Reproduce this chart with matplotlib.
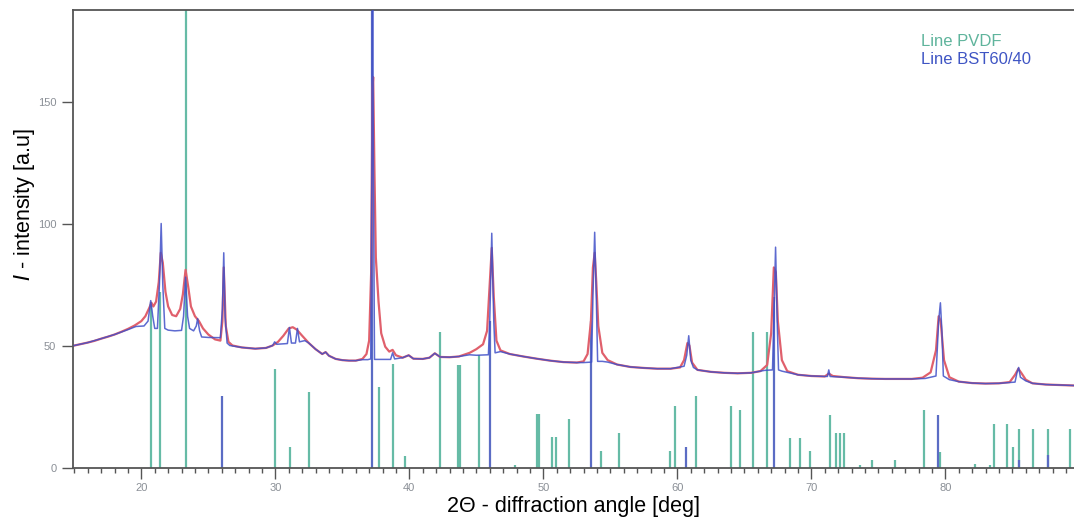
import matplotlib
matplotlib.use("Agg")
import matplotlib.pyplot as plt
from matplotlib.ticker import MultipleLocator

# ---------------- data ----------------
# measured pattern (red)
meas_x = [15.0, 15.5, 16.0, 16.5, 17.0, 17.5, 18.0, 18.5, 19.0, 19.5, 20.0, 20.3, 20.6, 20.75, 20.9,
          21.1, 21.3, 21.45, 21.6, 21.8, 22.0, 22.3, 22.6, 22.9, 23.1, 23.3, 23.5, 23.7, 24.0, 24.3,
          24.6, 25.0, 25.5, 25.9, 26.05, 26.15, 26.3, 26.5, 26.8, 27.5, 28.5, 29.3, 29.8, 30.2, 30.6,
          31.0, 31.3, 31.6, 32.0, 32.5, 33.0, 33.5, 33.75, 34.0, 34.5, 35.0, 35.5, 36.0, 36.5, 36.8,
          37.0, 37.15, 37.25, 37.3, 37.4, 37.5, 37.7, 37.9, 38.2, 38.5, 38.75, 39.0, 39.5, 39.95, 40.3,
          41.0, 41.5, 41.9, 42.3, 43.0, 43.7, 44.5, 45.0, 45.5, 45.8, 46.0, 46.15, 46.3, 46.5, 46.8,
          47.5, 48.5, 49.5, 50.5, 51.5, 52.5, 53.0, 53.3, 53.55, 53.7, 53.83, 53.95, 54.1, 54.4, 54.8,
          55.5, 56.5, 57.5, 58.5, 59.5, 60.2, 60.5, 60.75, 60.9, 61.1, 61.5, 62.5, 63.5, 64.5, 65.5,
          66.2, 66.7, 67.0, 67.2, 67.35, 67.5, 67.8, 68.2, 69.0, 70.0, 71.0, 71.3, 71.6, 72.5, 73.5,
          74.5, 75.5, 76.5, 77.5, 78.3, 78.9, 79.3, 79.5, 79.65, 79.9, 80.3, 81.0, 82.0, 83.0, 84.0,
          84.8, 85.2, 85.45, 85.7, 86.0, 86.5, 87.5, 88.5, 89.6]
meas_y = [50.0, 50.6, 51.2, 51.9, 52.8, 53.6, 54.5, 55.6, 56.8, 58.2, 60.0, 62.0, 65.5, 67.5, 66.0,
          68.0, 76.0, 88.0, 84.0, 72.0, 66.0, 62.5, 62.0, 65.0, 71.0, 81.0, 74.0, 66.0, 62.0, 60.0,
          57.0, 54.5, 52.5, 52.0, 60.0, 82.0, 58.0, 51.5, 50.0, 49.2, 48.7, 49.0, 50.0, 51.5, 54.0,
          57.0, 57.5, 56.5, 54.0, 51.0, 48.5, 46.5, 47.3, 45.8, 44.5, 44.0, 43.8, 43.8, 44.5, 46.5,
          52.0, 80.0, 155.0, 160.0, 120.0, 86.0, 68.0, 55.0, 49.5, 47.5, 48.2, 46.0, 45.0, 46.0, 44.6,
          44.5, 45.0, 46.8, 45.3, 45.2, 45.5, 47.0, 48.5, 50.5, 56.0, 75.0, 90.0, 70.0, 52.0, 48.0,
          46.5, 45.5, 44.6, 43.8, 43.2, 43.0, 43.5, 46.5, 60.0, 82.0, 88.0, 76.0, 58.0, 47.0, 44.0,
          42.2, 41.2, 40.8, 40.5, 40.5, 41.0, 44.0, 51.0, 50.0, 43.0, 40.0, 39.2, 38.8, 38.6, 38.8,
          39.5, 42.0, 55.0, 82.0, 80.0, 60.0, 44.0, 39.5, 38.0, 37.5, 37.3, 38.5, 37.5, 37.0, 36.6,
          36.4, 36.3, 36.3, 36.3, 36.8, 39.0, 48.0, 62.0, 60.0, 44.0, 37.0, 35.2, 34.6, 34.4, 34.5,
          35.0, 38.0, 40.5, 38.5, 36.0, 34.5, 34.0, 33.8, 33.6]

# calculated pattern (blue)
calc_x = [15.0, 16.0, 17.0, 18.0, 19.0, 19.6, 20.2, 20.5, 20.7, 20.85, 21.0, 21.2, 21.35, 21.48, 21.6,
          21.75, 22.0, 22.5, 23.0, 23.15, 23.3, 23.45, 23.6, 23.9, 24.1, 24.2, 24.35, 24.5, 25.0, 25.9,
          26.05, 26.15, 26.25, 26.4, 26.6, 27.5, 28.5, 29.3, 29.8, 29.95, 30.1, 30.9, 31.05, 31.2, 31.5,
          31.65, 31.8, 32.2, 32.5, 33.0, 33.5, 33.75, 34.0, 34.5, 35.0, 35.5, 36.0, 36.5, 36.9, 37.12,
          37.2, 37.26, 37.32, 37.4, 38.0, 38.6, 38.75, 38.9, 39.5, 39.95, 40.3, 41.0, 41.5, 41.9, 42.3,
          43.0, 43.7, 44.5, 45.0, 45.9, 46.0, 46.15, 46.3, 46.4, 46.8, 47.5, 48.5, 49.5, 50.5, 51.5,
          52.5, 53.0, 53.6, 53.7, 53.83, 53.95, 54.05, 54.4, 54.8, 55.5, 56.5, 57.5, 58.5, 59.5, 60.5,
          60.7, 60.85, 61.0, 61.2, 61.5, 62.5, 63.5, 64.5, 65.5, 66.5, 67.1, 67.2, 67.33, 67.45, 67.55,
          67.8, 68.2, 69.0, 70.0, 71.0, 71.2, 71.3, 71.4, 72.5, 73.5, 74.5, 75.5, 76.5, 77.5, 78.5,
          79.3, 79.5, 79.63, 79.75, 79.85, 80.3, 81.0, 82.0, 83.0, 84.0, 85.2, 85.35, 85.47, 85.6, 86.0,
          86.5, 87.5, 88.5, 89.6]
calc_y = [50.0, 51.2, 52.8, 54.5, 56.5, 57.8, 58.0, 60.0, 68.4, 62.0, 57.0, 57.0, 75.0, 100.0, 75.0,
          57.0, 56.3, 56.0, 56.2, 62.0, 78.0, 62.0, 57.0, 56.0, 58.0, 61.0, 56.0, 53.5, 53.3, 53.2,
          65.0, 88.0, 62.0, 51.0, 50.0, 49.2, 48.7, 49.0, 50.0, 51.5, 50.5, 50.8, 57.4, 51.0, 51.0,
          57.0, 51.5, 52.0, 51.0, 48.5, 46.5, 47.3, 45.8, 44.5, 44.0, 43.8, 43.8, 44.2, 44.2, 44.5,
          120.0, 205.0, 120.0, 44.3, 44.3, 44.3, 47.0, 44.5, 45.0, 46.0, 44.6, 44.5, 45.0, 46.8, 45.3,
          45.2, 45.5, 46.2, 46.0, 46.2, 60.0, 96.0, 60.0, 47.0, 47.5, 46.5, 45.5, 44.6, 43.8, 43.2,
          43.0, 43.0, 43.2, 70.0, 96.4, 70.0, 43.5, 43.5, 43.2, 42.2, 41.2, 40.8, 40.5, 40.5, 41.5,
          46.0, 54.0, 44.0, 41.0, 40.0, 39.2, 38.8, 38.6, 38.8, 39.8, 40.0, 60.0, 90.3, 60.0, 40.0,
          39.5, 39.0, 38.0, 37.5, 37.3, 37.3, 40.0, 37.3, 37.0, 36.6, 36.4, 36.3, 36.3, 36.3, 36.5,
          37.5, 60.0, 67.5, 55.0, 37.5, 36.0, 35.2, 34.6, 34.4, 34.5, 35.0, 39.0, 41.0, 37.0, 35.5,
          34.5, 34.0, 33.8, 33.6]

# reference stick patterns
pvdf_pos = [20.70, 21.38, 23.33, 30.00, 31.12, 32.53, 37.73, 38.78, 39.65, 42.30, 43.60, 43.75,
            45.20, 47.90, 49.55, 49.68, 50.64, 50.97, 51.91, 54.33, 55.62, 59.43, 59.80, 61.42,
            64.03, 64.68, 65.62, 66.70, 68.38, 69.13, 69.87, 71.37, 71.82, 72.12, 72.43, 73.60,
            74.50, 76.27, 78.38, 79.57, 82.20, 83.30, 83.63, 84.63, 85.04, 85.50, 86.54, 87.66, 89.28]
pvdf_int = [68.0, 72.0, 200.0, 40.5, 8.3, 30.9, 32.9, 42.6, 4.9, 55.5, 42.2, 42.2,
            46.3, 1.0, 22.0, 22.0, 12.4, 12.4, 19.7, 6.6, 14.2, 6.6, 25.4, 29.2,
            25.1, 23.4, 55.5, 55.5, 12.2, 12.2, 6.6, 21.7, 14.2, 14.2, 14.2, 1.0,
            2.9, 2.9, 23.6, 6.4, 1.5, 1.0, 17.9, 17.9, 8.3, 15.9, 15.9, 15.9, 15.9]
bst_pos = [26.03, 37.22, 46.04, 53.58, 60.67, 67.24, 79.48, 85.47, 87.66]
bst_int = [29.5, 200.0, 60.0, 60.0, 8.3, 70.0, 21.7, 3.2, 5.0]

x_ticks = [20, 30, 40, 50, 60, 70, 80]
y_ticks = [0, 50, 100, 150]
legend_labels = ["Line PVDF", "Line BST60/40"]

# ---------------- styling ----------------
plt.rcParams['font.family'] = ['Liberation Sans', 'DejaVu Sans']
teal = '#66bba6'
stick_blue = '#5b6cc4'
red = '#e0606c'
calc_blue = '#4050c8'
axis_col = '#555555'
tick_lab_col = '#8a8f96'

fig = plt.figure(figsize=(10.74, 5.22), dpi=100)
ax = fig.add_axes([73 / 1074, 1 - 467.5 / 522, 1 - 73 / 1074, (467.5 - 10) / 522])

ax.vlines(pvdf_pos, 0, pvdf_int, colors=teal, lw=1.6, zorder=1)
ax.vlines(bst_pos, 0, bst_int, colors=stick_blue, lw=1.6, zorder=1)

ax.plot(meas_x, meas_y, color=red, lw=1.6, zorder=2)
ax.plot(calc_x, calc_y, color=calc_blue, lw=1.1, alpha=0.85, zorder=3)

ax.set_xlim(14.9, 89.6)
ax.set_ylim(0, 187.5)
ax.set_xticks(x_ticks)
ax.set_yticks(y_ticks)
ax.xaxis.set_minor_locator(MultipleLocator(1))

for side in ['left', 'bottom', 'top']:
    ax.spines[side].set_color(axis_col)
    ax.spines[side].set_linewidth(1.3)
ax.spines['right'].set_visible(False)

ax.tick_params(axis='both', which='major', direction='out', length=8, width=1.0,
               color=axis_col, labelsize=8, labelcolor=tick_lab_col)
ax.tick_params(axis='x', which='minor', direction='out', length=3.5, width=1.0, color=axis_col)
ax.tick_params(axis='x', which='major', pad=3)
ax.tick_params(axis='y', which='major', pad=4)

ax.set_xlabel("2\u0398 - diffraction angle [deg]", fontsize=15.5, color='black', labelpad=2)
ax.set_ylabel("$\\mathit{I}$ - intensity [a.u]", fontsize=15.5, color='black')
ax.yaxis.set_label_coords(-0.036, 0.574)

ax.text(0.847, 0.932, legend_labels[0], transform=ax.transAxes, color='#5fb49c',
        fontsize=12, va='center', ha='left')
ax.text(0.847, 0.891, legend_labels[1], transform=ax.transAxes, color='#3f55c4',
        fontsize=12, va='center', ha='left')

fig.savefig("out.png", dpi=100)
